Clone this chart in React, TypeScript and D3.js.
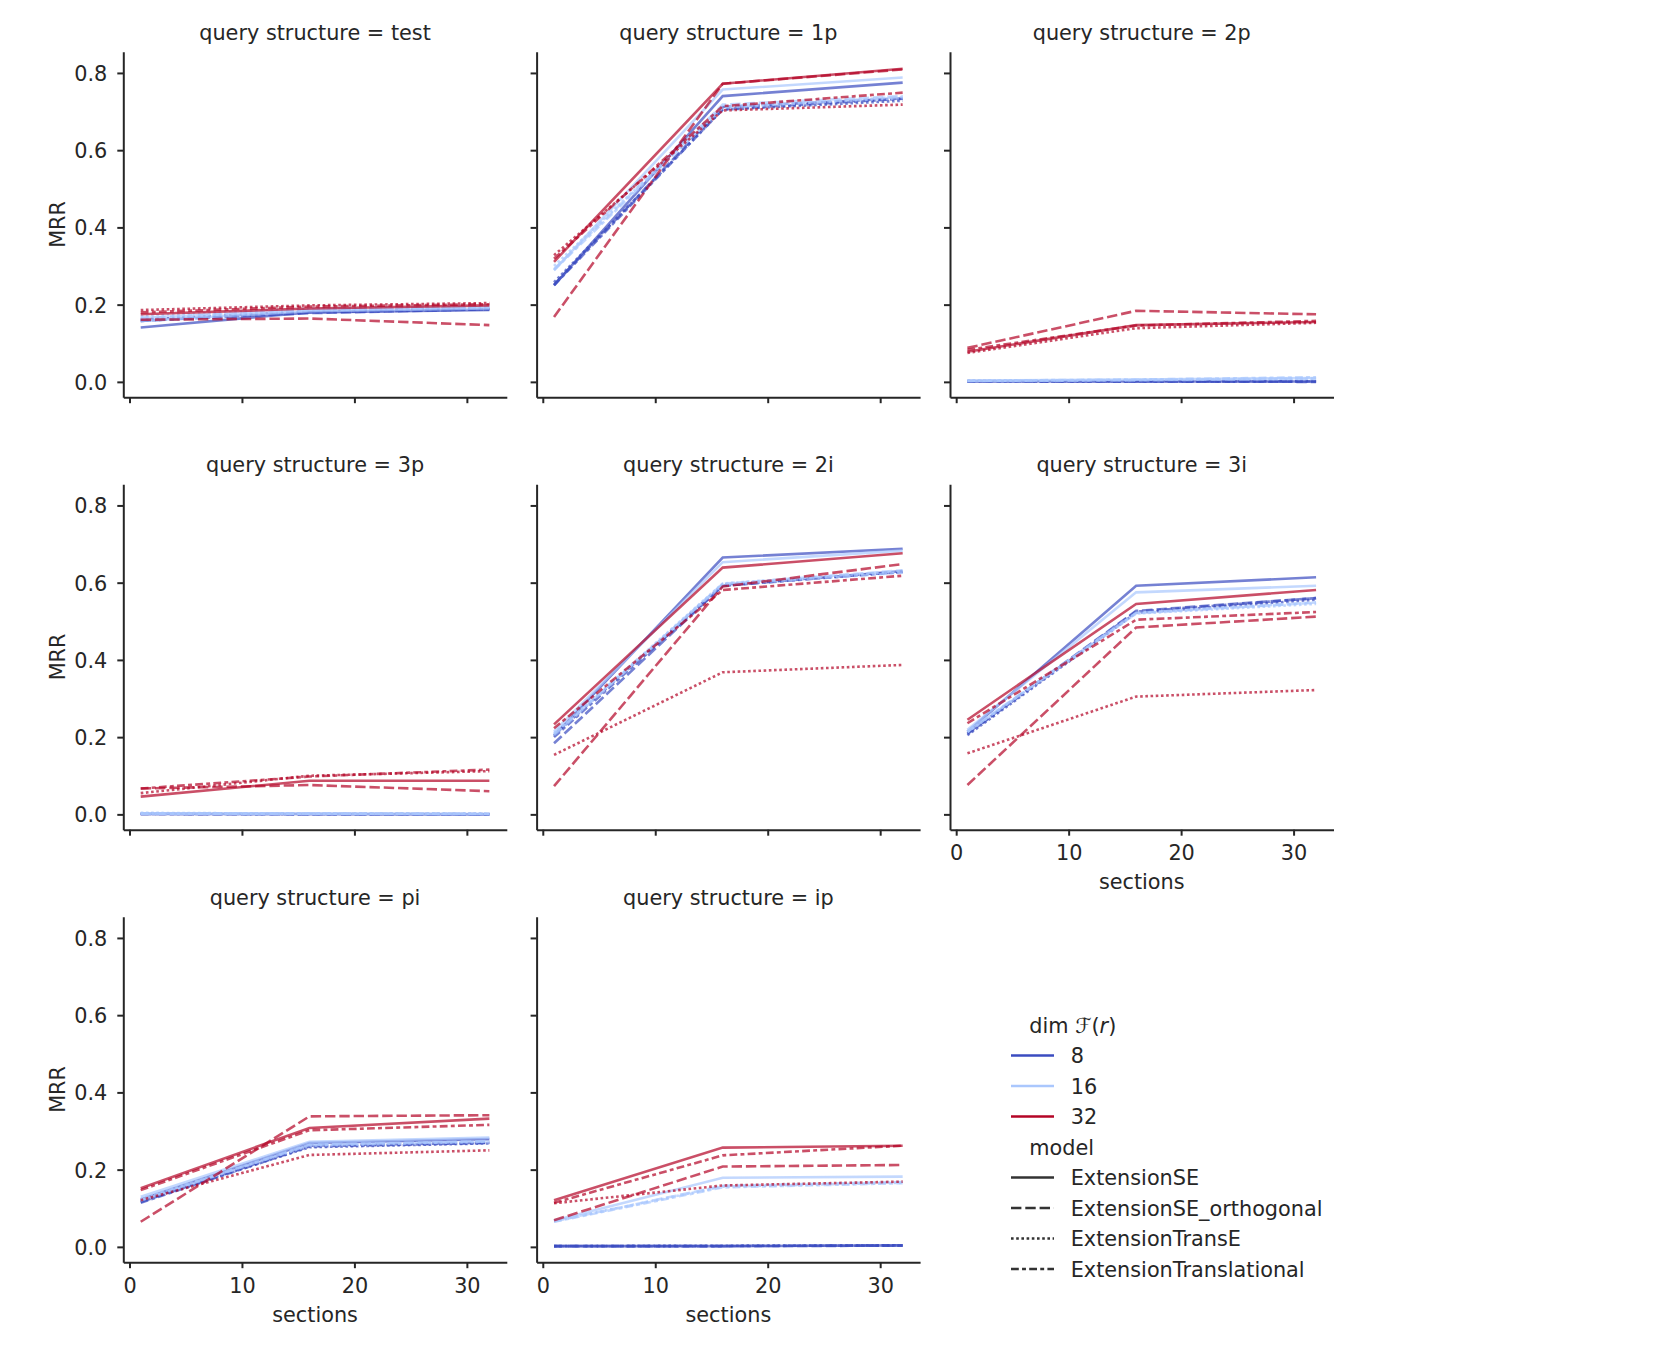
import { useEffect, useRef } from "react"
import * as d3 from "d3"

const sections = [1, 16, 32]
const dims = [8, 16, 32]
const models = ["ExtensionSE", "ExtensionSE_orthogonal", "ExtensionTransE", "ExtensionTranslational"]
const structures = ["test", "1p", "2p", "3p", "2i", "3i", "pi", "ip"]
const yTicks = [0, 0.2, 0.4, 0.6, 0.8]
const xTicks = [0, 10, 20, 30]

// rows: dim 8 (SE, orth, TransE, Transl), dim 16 (...), dim 32 (...)
const mrrTest = [
  [0.141, 0.18, 0.186], [0.158, 0.178, 0.188], [0.162, 0.182, 0.19], [0.158, 0.18, 0.188],
  [0.158, 0.183, 0.19], [0.165, 0.186, 0.193], [0.17, 0.19, 0.196], [0.166, 0.186, 0.194],
  [0.175, 0.19, 0.198], [0.161, 0.164, 0.147], [0.186, 0.198, 0.204], [0.18, 0.195, 0.201],
]
const mrr1p = [
  [0.25, 0.74, 0.775], [0.252, 0.712, 0.734], [0.258, 0.705, 0.728], [0.25, 0.706, 0.733],
  [0.289, 0.757, 0.788], [0.292, 0.718, 0.74], [0.3, 0.712, 0.735], [0.29, 0.71, 0.738],
  [0.311, 0.772, 0.811], [0.168, 0.772, 0.809], [0.328, 0.703, 0.718], [0.319, 0.714, 0.749],
]
const mrr2p = [
  [0.002, 0.001, 0.001], [0.001, 0.001, 0.0], [0.002, 0.002, 0.002], [0.001, 0.001, 0.001],
  [0.003, 0.006, 0.01], [0.002, 0.004, 0.008], [0.003, 0.005, 0.009], [0.003, 0.006, 0.012],
  [0.078, 0.147, 0.155], [0.088, 0.184, 0.175], [0.075, 0.139, 0.153], [0.083, 0.146, 0.158],
]
const mrr3p = [
  [0.001, 0.001, 0.0], [0.001, 0.0, 0.0], [0.002, 0.001, 0.001], [0.001, 0.001, 0.001],
  [0.002, 0.002, 0.001], [0.002, 0.001, 0.001], [0.004, 0.002, 0.002], [0.002, 0.002, 0.001],
  [0.046, 0.087, 0.087], [0.067, 0.076, 0.06], [0.055, 0.1, 0.112], [0.067, 0.098, 0.116],
]
const mrr2i = [
  [0.203, 0.665, 0.688], [0.184, 0.592, 0.63], [0.205, 0.595, 0.628], [0.2, 0.592, 0.628],
  [0.214, 0.653, 0.683], [0.205, 0.597, 0.632], [0.21, 0.598, 0.63], [0.208, 0.595, 0.626],
  [0.233, 0.639, 0.676], [0.073, 0.59, 0.648], [0.154, 0.368, 0.387], [0.223, 0.581, 0.618],
]
const mrr3i = [
  [0.214, 0.592, 0.614], [0.21, 0.527, 0.56], [0.205, 0.522, 0.556], [0.208, 0.525, 0.56],
  [0.219, 0.575, 0.592], [0.215, 0.522, 0.548], [0.213, 0.52, 0.545], [0.214, 0.521, 0.549],
  [0.245, 0.545, 0.581], [0.076, 0.484, 0.512], [0.158, 0.305, 0.322], [0.236, 0.504, 0.524],
]
const mrrPi = [
  [0.123, 0.269, 0.279], [0.116, 0.262, 0.27], [0.118, 0.258, 0.268], [0.114, 0.26, 0.269],
  [0.13, 0.272, 0.283], [0.122, 0.265, 0.274], [0.125, 0.262, 0.272], [0.12, 0.264, 0.273],
  [0.152, 0.308, 0.332], [0.065, 0.338, 0.341], [0.121, 0.238, 0.25], [0.147, 0.302, 0.316],
]
const mrrIp = [
  [0.002, 0.002, 0.004], [0.002, 0.002, 0.003], [0.002, 0.003, 0.004], [0.002, 0.002, 0.004],
  [0.068, 0.179, 0.182], [0.066, 0.158, 0.168], [0.067, 0.156, 0.166], [0.065, 0.154, 0.165],
  [0.121, 0.257, 0.262], [0.069, 0.208, 0.212], [0.113, 0.159, 0.169], [0.114, 0.237, 0.262],
]
const mrrByStructure = [mrrTest, mrr1p, mrr2p, mrr3p, mrr2i, mrr3i, mrrPi, mrrIp]

const dimColors = ["#3b4cc0", "#aac7fd", "#b40426"]
const dashes = ["none", "10.4,3.9", "2.6,2.6", "7.8,3.25,3.9,3.25"]

const FONT = "DejaVu Sans, sans-serif"
const INK = "#262626"
const FS = 20.8

export default function App() {
  const svgRef = useRef<SVGSVGElement>(null)

  useEffect(() => {
    if (!svgRef.current) return
    const svg = d3.select(svgRef.current)
    svg.selectAll("*").remove()

    const colLeft = [123.3, 536.6, 950]
    const rowTop = [51.7, 484.2, 916.7]
    const w = 383.5
    const h = 345.5

    const x = d3.scaleLinear().domain([-0.55, 33.55]).range([0, w])
    const y = d3.scaleLinear().domain([-0.0397, 0.855]).range([h, 0])

    const line = d3
      .line<number>()
      .x((_, i) => x(sections[i]))
      .y((d) => y(d))

    structures.forEach((name, idx) => {
      const row = Math.floor(idx / 3)
      const col = idx % 3
      const g = svg.append("g").attr("transform", `translate(${colLeft[col]}, ${rowTop[row]})`)
      const showX = row === 2 || idx === 5
      const showY = col === 0

      // series
      const data = mrrByStructure[idx]
      dims.forEach((_, di) => {
        models.forEach((_, mi) => {
          g.append("path")
            .attr("d", line(data[di * 4 + mi]))
            .attr("fill", "none")
            .attr("stroke", dimColors[di])
            .attr("stroke-opacity", 0.7)
            .attr("stroke-width", 2.6)
            .attr("stroke-dasharray", dashes[mi])
        })
      })

      // axes
      const xAxis = g
        .append("g")
        .attr("transform", `translate(0, ${h})`)
        .call(
          d3
            .axisBottom(x)
            .tickValues(xTicks)
            .tickSize(6)
            .tickSizeOuter(0)
            .tickPadding(10)
            .tickFormat((d) => (showX ? String(d) : "")),
        )
      const yAxis = g.append("g").call(
        d3
          .axisLeft(y)
          .tickValues(yTicks)
          .tickSize(6)
          .tickSizeOuter(0)
          .tickPadding(10)
          .tickFormat((d) => (showY ? d3.format(".1f")(d as number) : "")),
      )
      ;[xAxis, yAxis].forEach((a) => {
        a.select(".domain").attr("stroke", INK).attr("stroke-width", 2)
        a.selectAll(".tick line").attr("stroke", INK).attr("stroke-width", 2)
        a.selectAll(".tick text").attr("fill", INK).attr("font-size", FS).attr("font-family", FONT)
      })
      yAxis.selectAll(".tick text").attr("dy", "0.36em")

      g.append("text")
        .attr("x", w / 2)
        .attr("y", -12)
        .attr("text-anchor", "middle")
        .attr("font-size", FS)
        .attr("font-family", FONT)
        .attr("fill", INK)
        .text(`query structure = ${name}`)

      if (showX) {
        g.append("text")
          .attr("x", w / 2)
          .attr("y", h + 59.4)
          .attr("text-anchor", "middle")
          .attr("font-size", FS)
          .attr("font-family", FONT)
          .attr("fill", INK)
          .text("sections")
      }
      if (showY) {
        g.append("text")
          .attr("transform", `translate(-58.3, ${h / 2}) rotate(-90)`)
          .attr("text-anchor", "middle")
          .attr("font-size", FS)
          .attr("font-family", FONT)
          .attr("fill", INK)
          .text("MRR")
      }
    })

    // legend
    const lg = svg.append("g").attr("font-family", FONT).attr("font-size", FS).attr("fill", INK)
    const rowY = (i: number) => 1025 + i * 30.5
    const title1 = lg.append("text").attr("x", 1029.3).attr("y", rowY(0) + 7.5)
    title1.append("tspan").text("dim ℱ(")
    title1.append("tspan").attr("font-style", "italic").text("r")
    title1.append("tspan").text(")")
    dims.forEach((d, i) => {
      lg.append("line")
        .attr("x1", 1011)
        .attr("x2", 1054)
        .attr("y1", rowY(i + 1))
        .attr("y2", rowY(i + 1))
        .attr("stroke", dimColors[i])
        .attr("stroke-width", 2.6)
      lg.append("text").attr("x", 1070.7).attr("y", rowY(i + 1) + 7.5).text(String(d))
    })
    lg.append("text").attr("x", 1029.3).attr("y", rowY(4) + 7.5).text("model")
    models.forEach((m, i) => {
      lg.append("line")
        .attr("x1", 1011)
        .attr("x2", 1054)
        .attr("y1", rowY(i + 5))
        .attr("y2", rowY(i + 5))
        .attr("stroke", "#333333")
        .attr("stroke-width", 2.6)
        .attr("stroke-dasharray", dashes[i])
      lg.append("text").attr("x", 1070.7).attr("y", rowY(i + 5) + 7.5).text(m)
    })
  }, [])

  return (
    <svg
      ref={svgRef}
      width={1676}
      height={1350}
      style={{ position: "absolute", left: 0, top: 0, background: "#fff" }}
    />
  )
}
